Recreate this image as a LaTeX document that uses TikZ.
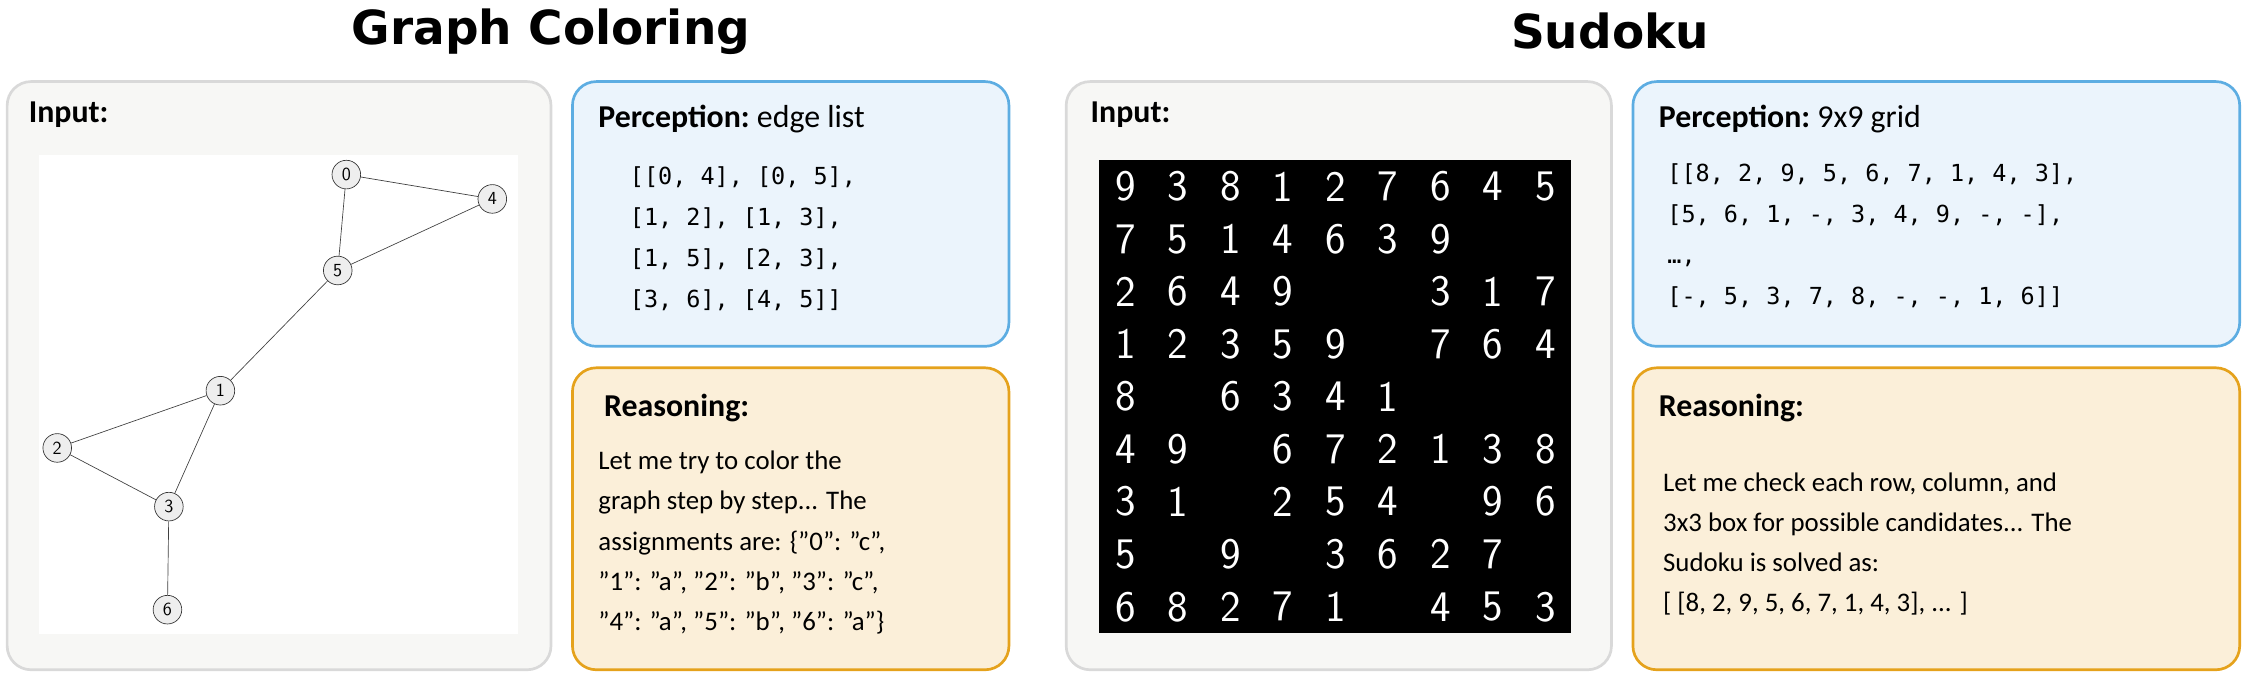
\documentclass[tikz,border=0pt]{standalone}
\usepackage{fontspec}
\setmainfont{Carlito}
\setmonofont{DejaVu Sans Mono}
\newfontfamily\titlefont{DejaVu Sans}
\usetikzlibrary{positioning}
\definecolor{inbg}{HTML}{F7F7F5}
\definecolor{inline}{HTML}{D9D9D9}
\definecolor{perbg}{HTML}{EBF4FC}
\definecolor{perline}{HTML}{5DADE2}
\definecolor{reabg}{HTML}{FBEFD9}
\definecolor{realine}{HTML}{E5A21C}
\definecolor{vtx}{HTML}{EEEEEE}

\begin{document}
\begin{tikzpicture}[x=0.3mm, y=-0.3mm,
    panel/.style={draw, line width=1.6pt, rounded corners=5mm},
    inbox/.style={panel, draw=inline, fill=inbg},
    perbox/.style={panel, draw=perline, fill=perbg},
    reabox/.style={panel, draw=realine, fill=reabg},
    title/.style={font=\titlefont\bfseries\fontsize{28}{32}\selectfont},
    head/.style={anchor=west, font=\bfseries\fontsize{19}{22}\selectfont},
    body/.style={anchor=north west, align=left, font=\fontsize{16}{24}\selectfont},
    code/.style={anchor=north west, align=left, font=\ttfamily\fontsize{14}{24.5}\selectfont},
    vertex/.style={circle, draw=black!80, fill=vtx, minimum size=6mm, inner sep=0pt, font=\sffamily\fontsize{11}{11}\selectfont},
    digit/.style={text=white, font=\sffamily\fontsize{26}{26}\selectfont},
    ]
\useasboundingbox (0,0) rectangle (1568,470);

% Titles
\node[title] (t1) at (385,22) {Graph Coloring};
\node[title] (t2) at (1125,22) {Sudoku};

% Graph coloring panels
\draw[inbox] (5,57) rectangle (385,468);
\draw[perbox] (400,57) rectangle (705,242);
\draw[reabox] (400,257) rectangle (705,468);
\node[head] (gin) at (16,80) {Input:};
\node[head] (gper) at (414,83) {Perception:\normalfont\ edge list};
\node[head] (grea) at (418,285) {Reasoning:};
\node[code] (gcode) at (436,112) {[[0, 4], [0, 5],\\\relax [1, 2], [1, 3],\\\relax [1, 5], [2, 3],\\\relax [3, 6], [4, 5]]};
\node[body] (gtext) at (414,311) {Let me try to color the\\graph step by step... The\\assignments are: \{"0": "c",\\"1": "a", "2": "b", "3": "c",\\"4": "a", "5": "b", "6": "a"\}};

% Graph
\fill[white] (27,108) rectangle (362,443);
\node[vertex] (n0) at (242,122) {0};
\node[vertex] (n4) at (344,139) {4};
\node[vertex] (n5) at (236,189) {5};
\node[vertex] (n1) at (154,273) {1};
\node[vertex] (n2) at (40,313) {2};
\node[vertex] (n3) at (118,354) {3};
\node[vertex] (n6) at (117,426) {6};
\foreach \a/\b in {0/4,0/5,1/2,1/3,1/5,2/3,3/6,4/5} {
    \draw[black!75] (n\a) -- (n\b);
}

% Sudoku panels
\draw[inbox] (745,57) rectangle (1126,468);
\draw[perbox] (1141,57) rectangle (1565,242);
\draw[reabox] (1141,257) rectangle (1565,468);
\node[head] (sin) at (758,80) {Input:};
\node[head] (sper) at (1155,83) {Perception:\normalfont\ 9x9 grid};
\node[head] (srea) at (1155,285) {Reasoning:};
\node[code] (scode) at (1161,110) {[[8, 2, 9, 5, 6, 7, 1, 4, 3],\\\relax [5, 6, 1, -, 3, 4, 9, -, -],\\…,\\\relax [-, 5, 3, 7, 8, -, -, 1, 6]]};
\node[body] (stext) at (1158,326) {Let me check each row, column, and\\3x3 box for possible candidates... The\\Sudoku is solved as:\\\relax [ [8, 2, 9, 5, 6, 7, 1, 4, 3], ... ]};

% Digit grid
\fill[black] (768,112) rectangle (1098,442);
\foreach \row [count=\r] in {
    {9,3,8,1,2,7,6,4,5},
    {7,5,1,4,6,3,9,0,0},
    {2,6,4,9,0,0,3,1,7},
    {1,2,3,5,9,0,7,6,4},
    {8,0,6,3,4,1,0,0,0},
    {4,9,0,6,7,2,1,3,8},
    {3,1,0,2,5,4,0,9,6},
    {5,0,9,0,3,6,2,7,0},
    {6,8,2,7,1,0,4,5,3}} {
    \foreach \d [count=\c] in \row {
        \ifnum\d>0
            \node[digit] (d\r\c) at ({768+36.7*(\c-0.5)}, {112+36.7*(\r-0.5)}) {\d};
        \fi
    }
}

\end{tikzpicture}
\end{document}
